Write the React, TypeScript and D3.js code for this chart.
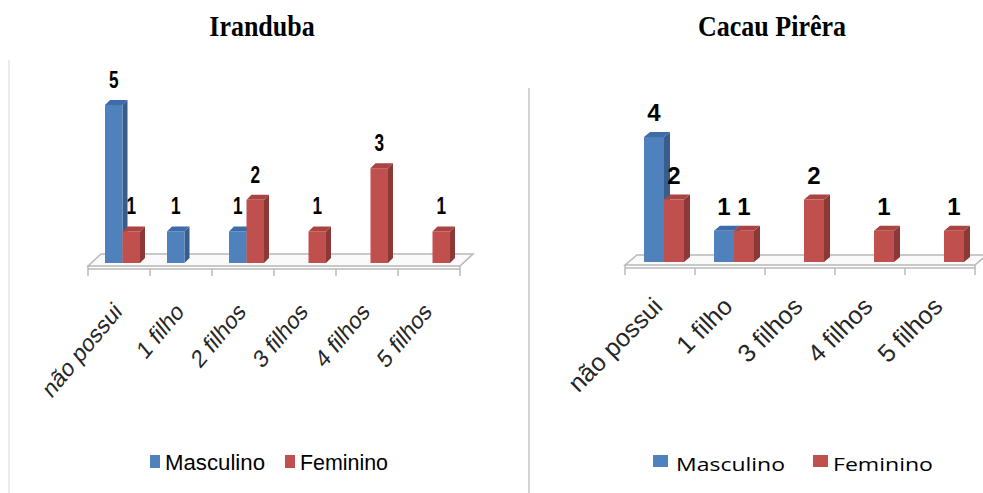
import React from "react";
import * as d3 from "d3";

const series = ["Masculino", "Feminino"];
const irandubaCategories = ["não possui", "1 filho", "2 filhos", "3 filhos", "4 filhos", "5 filhos"];
const irandubaMasculino = [5, 1, 1, 0, 0, 0];
const irandubaFeminino = [1, 0, 2, 1, 3, 1];
const cacauCategories = ["não possui", "1 filho", "3 filhos", "4 filhos", "5 filhos"];
const cacauMasculino = [4, 1, 0, 0, 0];
const cacauFeminino = [2, 1, 2, 1, 1];

const COLORS = {
  Masculino: { front: "#4F81BD", top: "#3E6CA6", side: "#385D8A" },
  Feminino: { front: "#C0504D", top: "#A94442", side: "#8C3836" },
};

type PanelProps = {
  title: string;
  titleX: number;
  categories: string[];
  masc: number[];
  fem: number[];
  x0: number;
  x1: number;
  yBase: number;
  yTop: number;
  maxV: number;
  barStart: number;
  barW: number;
  depth: [number, number];
  floorDepth: [number, number];
  labelSize: number;
  labelSx: number;
  labelSy: number;
  axisFont: number;
  axisDy: number;
  axisDx: number;
  axisSy: number;
  labelGap: number;
  legend: { sqX: number; sqW: number; sqY: number; sqH: number; textX: number; textW: number; redSqX: number; redTextX: number; redTextW: number; font: string; size: number; base: number };
};

function Panel(p: PanelProps) {
  const x = d3.scaleBand<string>().domain(p.categories).range([p.x0, p.x1]).paddingInner(0).paddingOuter(0);
  const y = d3.scaleLinear().domain([0, p.maxV]).range([p.yBase, p.yTop]);
  const inner = d3.scaleBand<string>().domain(series).range([p.barStart, p.barStart + 2 * p.barW]);
  const [dx, dy] = p.depth;
  const [fdx, fdy] = p.floorDepth;
  const floorFront = p.yBase + 3;
  const bars: any[] = [];
  const labels: any[] = [];
  p.categories.forEach((c, i) => {
    const vals = { Masculino: p.masc[i], Feminino: p.fem[i] } as Record<string, number>;
    series.forEach((s) => {
      const v = vals[s];
      if (!v) return;
      const bx = (x(c) as number) + (inner(s) as number);
      const bw = inner.bandwidth();
      const top = y(v);
      const col = (COLORS as any)[s];
      bars.push(
        <g key={c + s}>
          <polygon points={`${bx + bw},${top} ${bx + bw + dx},${top - dy} ${bx + bw + dx},${p.yBase - dy} ${bx + bw},${p.yBase}`} fill={col.side} />
          <polygon points={`${bx},${top} ${bx + dx},${top - dy} ${bx + bw + dx},${top - dy} ${bx + bw},${top}`} fill={col.top} />
          <rect x={bx} y={top} width={bw} height={p.yBase - top} fill={col.front} />
        </g>
      );
      labels.push(
        <text
          key={"l" + c + s}
          transform={`translate(${bx + bw / 2},${top - p.labelGap}) scale(${p.labelSx},${p.labelSy})`}
          textAnchor="middle"
          fontFamily="'Liberation Sans', Arial, sans-serif"
          fontWeight="bold"
          fontSize={p.labelSize}
          fill="#000"
        >
          {v}
        </text>
      );
    });
  });
  const ticks = [...p.categories.map((c) => x(c) as number), p.x1];
  const L = p.legend;
  return (
    <g>
      <text
        transform={`translate(${p.titleX},36) scale(1,1.12)`}
        textAnchor="middle"
        fontFamily="'Liberation Serif', 'Times New Roman', serif"
        fontWeight="bold"
        fontSize={26}
        fill="#000"
      >
        {p.title}
      </text>
      {/* floor */}
      <polygon
        points={`${p.x0},${floorFront} ${p.x0 + fdx},${floorFront - fdy} ${p.x1 + fdx},${floorFront - fdy} ${p.x1},${floorFront}`}
        fill="#fafafa"
        stroke="#b8b8b8"
        strokeWidth={1.5}
      />
      <line x1={p.x0} x2={p.x1} y1={floorFront + 3} y2={floorFront + 3} stroke="#b8b8b8" strokeWidth={1.5} />
      <line x1={p.x0} x2={p.x0} y1={floorFront} y2={floorFront + 3} stroke="#b8b8b8" strokeWidth={1.5} />
      <line x1={p.x1} x2={p.x1} y1={floorFront} y2={floorFront + 3} stroke="#b8b8b8" strokeWidth={1.5} />
      {ticks.map((t, i) => (
        <line key={"t" + i} x1={t} x2={t} y1={floorFront + 3} y2={floorFront + 10} stroke="#b8b8b8" strokeWidth={1.5} />
      ))}
      {bars}
      {labels}
      {p.categories.map((c) => {
        const cx = (x(c) as number) + x.bandwidth() / 2 + p.axisDx;
        const cy = floorFront + p.axisDy;
        return (
          <text
            key={"a" + c}
            transform={`translate(${cx},${cy}) scale(1,${p.axisSy}) rotate(-45)`}
            textAnchor="end"
            fontFamily="'Liberation Sans', Arial, sans-serif"
            fontSize={p.axisFont}
            fill="#262626"
          >
            {c}
          </text>
        );
      })}
      {/* legend */}
      <rect x={L.sqX} y={L.sqY} width={L.sqW} height={L.sqH} fill={COLORS.Masculino.front} />
      <text x={L.textX} y={L.base} fontFamily={L.font} fontSize={L.size} fill="#000" textLength={L.textW} lengthAdjust="spacingAndGlyphs">
        {series[0]}
      </text>
      <rect x={L.redSqX} y={L.sqY} width={L.sqW} height={L.sqH} fill={COLORS.Feminino.front} />
      <text x={L.redTextX} y={L.base} fontFamily={L.font} fontSize={L.size} fill="#000" textLength={L.redTextW} lengthAdjust="spacingAndGlyphs">
        {series[1]}
      </text>
    </g>
  );
}

export default function App() {
  return (
    <svg width={983} height={493} style={{ position: "absolute", left: 0, top: 0, background: "#fff" }}>
      <rect width={983} height={493} fill="#fff" />
      <line x1={9} x2={9} y1={60} y2={493} stroke="#e6e6e6" strokeWidth={1.5} />
      <line x1={529} x2={529} y1={88} y2={493} stroke="#c4c4c4" strokeWidth={1.5} />
      <Panel
        title="Iranduba"
        titleX={262}
        categories={irandubaCategories}
        masc={irandubaMasculino}
        fem={irandubaFeminino}
        x0={88}
        x1={460}
        yBase={263}
        yTop={105}
        maxV={5}
        barStart={17}
        barW={17.5}
        depth={[5, 5]}
        floorDepth={[13, 12]}
        labelSize={21}
        labelSx={0.82}
        labelSy={1.12}
        axisFont={21}
        axisDx={4}
        axisDy={47}
        axisSy={1.2}
        labelGap={17}
        legend={{ sqX: 150, sqW: 10, sqY: 455, sqH: 13, textX: 165, textW: 100, redSqX: 285, redTextX: 300, redTextW: 88, font: "'Liberation Sans', Arial, sans-serif", size: 22, base: 470 }}
      />
      <Panel
        title="Cacau Pirêra"
        titleX={772}
        categories={cacauCategories}
        masc={cacauMasculino}
        fem={cacauFeminino}
        x0={625}
        x1={975}
        yBase={262}
        yTop={137}
        maxV={4}
        barStart={19}
        barW={20}
        depth={[6, 5]}
        floorDepth={[12, 10]}
        labelSize={24}
        labelSx={1}
        labelSy={1}
        axisFont={25}
        axisDx={4}
        axisDy={43}
        axisSy={1}
        labelGap={16}
        legend={{ sqX: 653, sqW: 15, sqY: 455, sqH: 12, textX: 676, textW: 109, redSqX: 813, redTextX: 833, redTextW: 100, font: "'Open Sans', 'Noto Sans', sans-serif", size: 19, base: 471 }}
      />
    </svg>
  );
}
